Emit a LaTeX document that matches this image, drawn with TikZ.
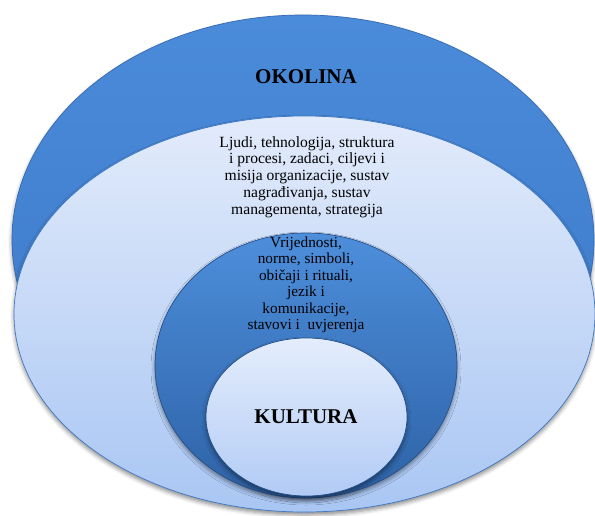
\documentclass[tikz,border=0pt]{standalone}
\usepackage{fontspec}
\setmainfont{Liberation Serif}
\usetikzlibrary{shadows.blur}
\definecolor{outertop}{HTML}{4A8BDA}
\definecolor{outerbot}{HTML}{3C78C6}
\definecolor{outerline}{HTML}{3569B0}
\definecolor{lighttop}{HTML}{E2EBFB}
\definecolor{lightbot}{HTML}{A9C6F3}
\definecolor{lightline}{HTML}{3F78C4}
\definecolor{midtop}{HTML}{4D8EDB}
\definecolor{midbot}{HTML}{2E62A6}
\definecolor{midline}{HTML}{244F8A}
\definecolor{innertop}{HTML}{E4EDFC}
\definecolor{innerbot}{HTML}{B2CBF5}
\tikzset{
  ring/.style={line width=0.7pt},
  shade/.style={blur shadow={shadow xshift=0pt, shadow yshift=-3pt, shadow blur radius=4pt, shadow opacity=45}},
  titletext/.style={font=\fontsize{21}{24}\selectfont\bfseries, text=black},
  bodytext/.style={font=\fontsize{15.6}{16.8}\selectfont, align=center, text=black, inner sep=0pt},
  midtext/.style={font=\fontsize{15.3}{16.5}\selectfont, align=center, text=black, inner sep=0pt}
}
\begin{document}
\begin{tikzpicture}[x=1pt,y=-1pt]
\useasboundingbox (0,0) rectangle (595,515);
% outer ellipse
\path[ring, shade, top color=outertop, bottom color=outerbot, draw=outerline]
  (303,240) ellipse [x radius=291pt, y radius=225pt];
% light ellipse
\path[ring, shade, top color=lighttop, bottom color=lightbot, draw=lightline]
  (304.5,314) ellipse [x radius=290.5pt, y radius=198pt];
% middle ellipse
\path[ring, shade, top color=midtop, bottom color=midbot, draw=midline]
  (306,365.5) ellipse [x radius=151pt, y radius=132.5pt];
% inner ellipse
\path[ring, shade, top color=innertop, bottom color=innerbot, draw=midline]
  (306.5,417) ellipse [x radius=100.5pt, y radius=79pt];
% texts
\node[titletext] (okolina) at (306,76.5) {OKOLINA};
\node[bodytext] (elementi) at (307,177) {Ljudi, tehnologija, struktura\\
i procesi, zadaci, ciljevi i\\
misija organizacije, sustav\\
nagrađivanja, sustav\\
managementa, strategija};
\node[midtext] (vrijednosti) at (306,285) {Vrijednosti,\\
norme, simboli,\\
običaji i rituali,\\
jezik i\\
komunikacije,\\
stavovi i\ \ uvjerenja};
\node[titletext] (kultura) at (306,417) {KULTURA};
\end{tikzpicture}
\end{document}
